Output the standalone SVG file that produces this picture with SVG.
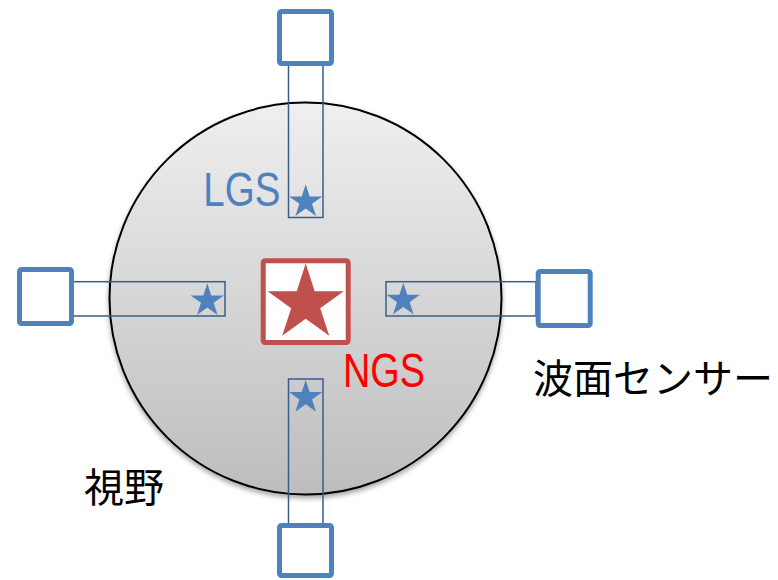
<svg xmlns="http://www.w3.org/2000/svg" width="778" height="580" viewBox="0 0 778 580">
  <defs>
    <linearGradient id="fov" x1="0" y1="0" x2="0" y2="1">
      <stop offset="0" stop-color="#efefef"/>
      <stop offset="1" stop-color="#bdbdbd"/>
    </linearGradient>
    <filter id="shadow" x="-10%" y="-10%" width="120%" height="125%">
      <feGaussianBlur in="SourceAlpha" stdDeviation="2.5"/>
      <feOffset dx="0" dy="3" result="b"/>
      <feFlood flood-color="#000" flood-opacity="0.35"/>
      <feComposite in2="b" operator="in"/>
      <feMerge><feMergeNode/><feMergeNode in="SourceGraphic"/></feMerge>
    </filter>
    <path id="star" d="M0,-1 L0.2245,-0.309 L0.951,-0.309 L0.363,0.118 L0.588,0.809 L0,0.382 L-0.588,0.809 L-0.363,0.118 L-0.951,-0.309 L-0.2245,-0.309 Z"/>
    <style>
      .sensor { fill: #ffffff; stroke: #4f81bd; stroke-width: 5; }
      .strip { fill: none; stroke: #385d8a; stroke-width: 1.5; }
      .lgs { fill: #4f81bd; }
      .ngs { fill: #c0504d; }
      .lbl { font-family: "Noto Sans CJK JP", "Liberation Sans", sans-serif; font-size: 40px; fill: #000; }
      .lat { font-family: "Liberation Sans", "DejaVu Sans", sans-serif; font-size: 48px; }
    </style>
  </defs>

  <g id="field-of-view">
    <circle cx="305.5" cy="298.5" r="196" fill="url(#fov)" stroke="#000" stroke-width="2" filter="url(#shadow)"/>
  </g>

  <g id="connectors">
    <rect class="strip" x="288.5" y="64" width="34.5" height="153.5"/>
    <rect class="strip" x="72" y="281.7" width="153" height="34.3"/>
    <rect class="strip" x="386" y="281.7" width="150" height="34.3"/>
    <rect class="strip" x="288.5" y="379" width="34.5" height="145"/>
  </g>

  <g id="sensor-top">
    <rect class="sensor" x="279.5" y="11.5" width="52" height="52" rx="2"/>
    <use href="#star" class="lgs" transform="translate(305.7,201.8) scale(17.5)"/>
  </g>
  <g id="sensor-left">
    <rect class="sensor" x="19.5" y="269.5" width="52" height="54" rx="2"/>
    <use href="#star" class="lgs" transform="translate(207.3,300.8) scale(17.5)"/>
  </g>
  <g id="sensor-right">
    <rect class="sensor" x="538.2" y="271.5" width="52" height="54" rx="2"/>
    <use href="#star" class="lgs" transform="translate(403.3,300.2) scale(17.5)"/>
  </g>
  <g id="sensor-bottom">
    <rect class="sensor" x="279.5" y="525.5" width="52" height="50" rx="2"/>
    <use href="#star" class="lgs" transform="translate(305.7,397.5) scale(17.5)"/>
  </g>

  <g id="ngs">
    <rect x="263.2" y="260.8" width="85" height="81.7" rx="2" fill="#ffffff" stroke="#c0504d" stroke-width="5"/>
    <use href="#star" class="ngs" transform="translate(305.7,303.5) scale(40)"/>
  </g>

  <g id="labels">
    <text class="lat" x="203.3" y="206" fill="#4f81bd" textLength="77" lengthAdjust="spacingAndGlyphs">LGS</text>
    <text class="lat" x="343" y="387" fill="#ff0000" textLength="82" lengthAdjust="spacingAndGlyphs">NGS</text>
    <text class="lbl" x="533" y="393">波面センサー</text>
    <text class="lbl" x="84" y="502">視野</text>
  </g>
</svg>
